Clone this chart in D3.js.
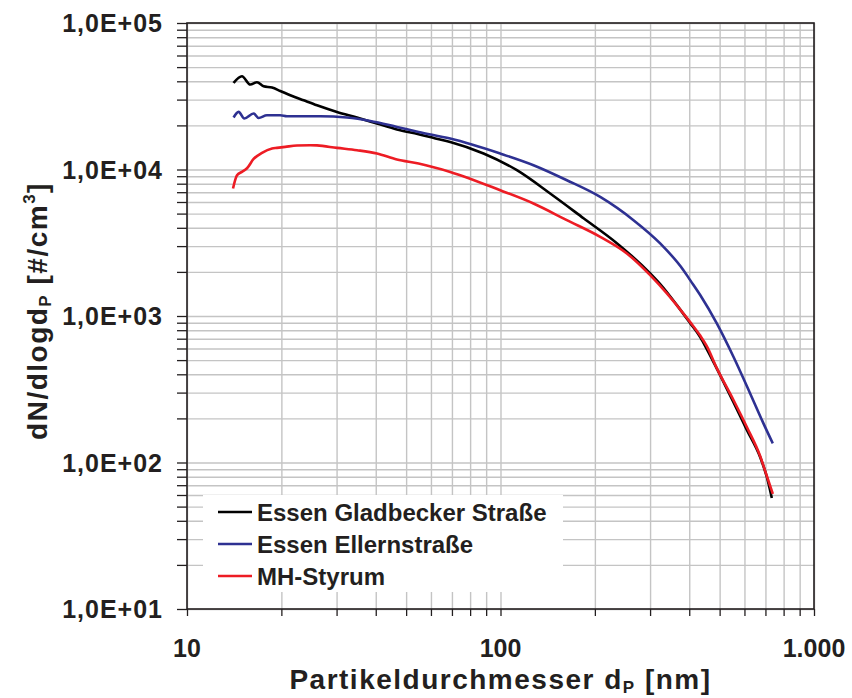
<!DOCTYPE html>
<html>
<head>
<meta charset="utf-8">
<script src="https://cdn.jsdelivr.net/npm/d3@7"></script>
<style>
  body { margin: 0; background: #fff; }
  text { font-family: "Liberation Sans", Arial, sans-serif; font-weight: bold; fill: #231f20; }
  .grid line { stroke: #c4c4c4; stroke-width: 1.4; }
  .grid path { display: none; }
  .ticks path { display: none; }
  .ticks line { stroke: #231f20; stroke-width: 1.3; }
</style>
</head>
<body>
<script>
var width = 852,
    height = 698;

// Series names and colours
var seriesNames = ['Essen Gladbecker Straße', 'Essen Ellernstraße', 'MH-Styrum'];
var seriesColors = ['#000000', '#2e3192', '#ed1c24'];

// [particle diameter nm, dN/dlogdP]
var gladbecker = [
  [14.08, 38970], [14.97, 43290], [15.92, 38000], [16.72, 39400], [17.55, 37000],
  [18.67, 36260], [19.84, 34360], [21.35, 32120], [23.54, 29700], [25.98, 27460],
  [30.09, 24720], [34.85, 22630], [40.36, 20600], [46.73, 18750], [54.78, 17410],
  [62.0, 16300], [69.12, 15430], [88.3, 12860], [112.8, 9890], [144.0, 6860],
  [184.0, 4650], [235.0, 3143], [300.2, 1953], [323.1, 1651], [365.2, 1187],
  [402.7, 894], [433.5, 718], [455.0, 595], [501.7, 395], [553.4, 258.6],
  [610.6, 167], [673.2, 109], [707.2, 79.6], [733.6, 57.3]
];
var ellern = [
  [14.08, 22630], [14.61, 24720], [15.23, 22280], [16.31, 24100], [16.92, 22490],
  [17.99, 23470], [19.84, 23470], [20.84, 23100], [26.61, 23100], [32.38, 22630],
  [38.41, 21450], [46.73, 19530], [54.78, 18050], [69.12, 16270], [99.8, 12860],
  [127.4, 10700], [162.8, 8450], [208.0, 6500], [265.6, 4510], [323.1, 3130],
  [383.3, 2056], [402.7, 1758], [433.5, 1390], [489.7, 890], [553.4, 527],
  [625.6, 296], [689.7, 185], [739.0, 135]
];
var styrum = [
  [14.02, 7420], [14.44, 9140], [14.97, 9630], [15.54, 10200], [16.31, 11800],
  [17.35, 13000], [18.67, 13910], [19.36, 14040], [20.58, 14270],
  [22.43, 14580], [24.73, 14650], [25.98, 14600], [30.09, 14040], [34.85, 13540],
  [40.36, 12860], [46.73, 11700], [54.78, 10990], [69.12, 9630], [99.8, 7220],
  [127.4, 5860], [162.8, 4510], [208.0, 3470], [253.0, 2673], [300.2, 1901],
  [339.4, 1426], [383.3, 1038], [402.7, 908], [433.5, 735], [455.0, 623],
  [489.7, 441], [553.4, 267], [610.6, 174.6], [673.2, 110.7], [707.2, 80.9],
  [739.0, 61.0]
];
var allSeries = [gladbecker, ellern, styrum];

// Tick labels
var xTickValues = [10, 100, 1000];
var yTickValues = [10, 100, 1000, 10000, 100000];

var plot = {left: 187, top: 23, right: 814, bottom: 609};

var svg = d3.select('body').append('svg')
    .attr('width', width)
    .attr('height', height);

var x = d3.scaleLog()
    .domain([10, 1000])
    .range([plot.left, plot.right]);

var y = d3.scaleLog()
    .domain([10, 100000])
    .range([plot.bottom, plot.top]);

var de = d3.formatLocale({decimal: ',', thousands: '.', grouping: [3], currency: ['', '€']});
var xFormat = de.format(',d');
var yFormat = function(d) {
  var e = Math.round(Math.log10(d));
  return '1,0E+' + (e < 10 ? '0' : '') + e;
};

// grid lines (major + minor)
svg.append('g')
    .attr('class', 'grid')
    .attr('transform', 'translate(0,' + plot.bottom + ')')
    .call(d3.axisBottom(x).ticks(10).tickSize(-(plot.bottom - plot.top)).tickFormat(''));

svg.append('g')
    .attr('class', 'grid')
    .attr('transform', 'translate(' + plot.left + ',0)')
    .call(d3.axisLeft(y).ticks(10).tickSize(-(plot.right - plot.left)).tickFormat(''));

// outer ticks
svg.append('g')
    .attr('class', 'ticks')
    .attr('transform', 'translate(0,' + plot.bottom + ')')
    .call(d3.axisBottom(x).ticks(10).tickSize(7).tickFormat(''));

svg.append('g')
    .attr('class', 'ticks')
    .attr('transform', 'translate(' + plot.left + ',0)')
    .call(d3.axisLeft(y).ticks(10).tickSize(10).tickFormat(''));

// tick labels
svg.append('g').selectAll('text')
    .data(xTickValues)
    .enter().append('text')
    .attr('x', function(d) { return x(d); })
    .attr('y', 657)
    .attr('text-anchor', 'middle')
    .style('font-size', '25px')
    .text(xFormat);

svg.append('g').selectAll('text')
    .data(yTickValues)
    .enter().append('text')
    .attr('x', 163)
    .attr('y', function(d) { return y(d) + 9; })
    .attr('text-anchor', 'end')
    .style('font-size', '25px')
    .style('letter-spacing', '1px')
    .text(yFormat);

// curves
var line = d3.line()
    .x(function(d) { return x(d[0]); })
    .y(function(d) { return y(d[1]); })
    .curve(d3.curveMonotoneX);

svg.append('g').selectAll('path')
    .data(allSeries)
    .enter().append('path')
    .attr('d', line)
    .attr('fill', 'none')
    .attr('stroke', function(d, i) { return seriesColors[i]; })
    .attr('stroke-width', 2.6)
    .attr('stroke-linejoin', 'round');

// frame
svg.append('rect')
    .attr('x', plot.left)
    .attr('y', plot.top)
    .attr('width', plot.right - plot.left)
    .attr('height', plot.bottom - plot.top)
    .attr('fill', 'none')
    .attr('stroke', '#231f20')
    .attr('stroke-width', 1.6);

// legend
var legend = svg.append('g');
legend.append('rect')
    .attr('x', 203)
    .attr('y', 495)
    .attr('width', 360)
    .attr('height', 97)
    .attr('fill', '#fff');

var items = legend.selectAll('g')
    .data(seriesNames)
    .enter().append('g')
    .attr('transform', function(d, i) { return 'translate(0,' + (512 + i * 32) + ')'; });

items.append('line')
    .attr('x1', 218).attr('x2', 252)
    .attr('stroke', function(d, i) { return seriesColors[i]; })
    .attr('stroke-width', 2.6);

items.append('text')
    .attr('x', 257)
    .attr('y', 8.5)
    .style('font-size', '24px')
    .text(function(d) { return d; });

// axis titles
var xt = svg.append('text')
    .attr('x', (plot.left + plot.right) / 2)
    .attr('y', 689)
    .attr('text-anchor', 'middle')
    .style('font-size', '28px')
    .style('letter-spacing', '1.5px');
xt.append('tspan').text('Partikeldurchmesser d');
xt.append('tspan').attr('font-size', '17px').attr('dy', 4).text('P');
xt.append('tspan').attr('dy', -4).text(' [nm]');

var yt = svg.append('text')
    .attr('transform', 'translate(47,311) rotate(-90)')
    .attr('text-anchor', 'middle')
    .style('font-size', '28px')
    .style('letter-spacing', '1.5px');
yt.append('tspan').text('dN/dlogd');
yt.append('tspan').attr('font-size', '17px').attr('dy', 4).text('P');
yt.append('tspan').attr('dy', -4).text(' [#/cm');
yt.append('tspan').attr('font-size', '17px').attr('dy', -12).text('3');
yt.append('tspan').attr('dy', 12).text(']');
</script>
</body>
</html>
